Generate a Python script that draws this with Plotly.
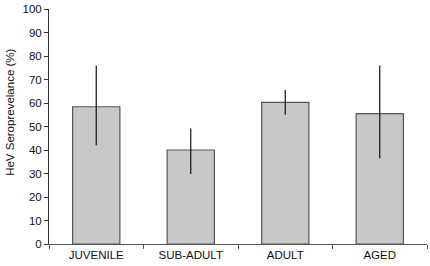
import plotly.graph_objects as go

categories = ["JUVENILE", "SUB-ADULT", "ADULT", "AGED"]
values = [58.4, 40.0, 60.3, 55.5]
err_upper = [76.0, 49.2, 65.5, 76.0]
err_lower = [42.0, 29.8, 55.0, 36.5]
y_title = "HeV Seroprevelance (%)"

plus = [u - v for u, v in zip(err_upper, values)]
minus = [v - l for v, l in zip(values, err_lower)]

fig = go.Figure(go.Bar(
    x=categories, y=values,
    marker=dict(color="#c8c8c8", line=dict(color="#555555", width=1.2)),
    error_y=dict(type="data", symmetric=False, array=plus, arrayminus=minus,
                 color="#111111", thickness=1.2, width=0),
))

fig.update_layout(
    width=430, height=266,
    margin=dict(l=49, r=3, t=6, b=22),
    plot_bgcolor="white", paper_bgcolor="white",
    bargap=0.5,
    showlegend=False,
    font=dict(family="Liberation Sans, Arial, sans-serif", size=11.5, color="#111111"),
    annotations=[dict(
        text=y_title, textangle=-90, xref="paper", yref="paper",
        x=-0.102, y=0.56, xanchor="center", yanchor="middle",
        showarrow=False, font=dict(size=11.5),
    )],
)
fig.update_yaxes(
    range=[0, 100], dtick=10, showgrid=False, zeroline=False,
    showline=True, linecolor="#333333", linewidth=1,
    ticks="outside", ticklen=4, tickcolor="#333333",
)
fig.update_xaxes(
    showgrid=False, showline=True, linecolor="#555555", linewidth=1,
    ticks="outside", ticklen=4, tickcolor="#555555", tickson="boundaries",
)

fig.write_html("out.html", config={"displayModeBar": False},
               post_script="document.body.style.margin='0';document.body.style.overflow='hidden';")
